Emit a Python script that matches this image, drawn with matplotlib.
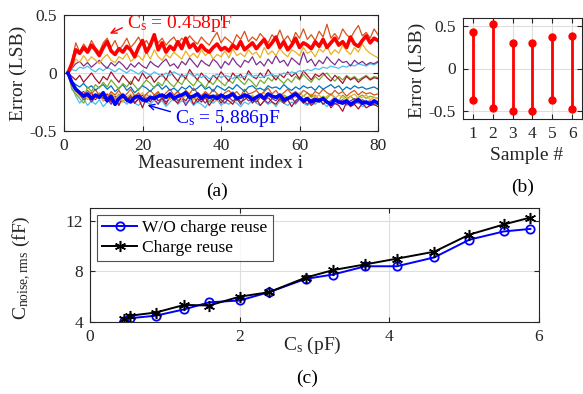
import numpy as np
import matplotlib
matplotlib.use("Agg")
import matplotlib.pyplot as plt

plt.rcParams['font.family'] = ['Liberation Serif', 'DejaVu Serif']
plt.rcParams['mathtext.fontset'] = 'custom'
plt.rcParams['mathtext.rm'] = 'Liberation Serif'
plt.rcParams['mathtext.it'] = 'Liberation Serif:italic'
plt.rcParams['axes.unicode_minus'] = False

# ---------------- Panel (a) data (error in hundredths of LSB) ----------------
red_thick = [0, 8, 20, 17, 22, 18, 24, 20, 15, 22, 27, 19, 16, 21, 18, 23, 20, 14, 22, 28,
             18, 24, 33, 20, 26, 18, 23, 20, 27, 21, 30, 22, 25, 19, 24, 20, 18, 22, 25, 20,
             22, 19, 24, 21, 27, 20, 23, 26, 21, 25, 29, 22, 26, 31, 22, 27, 20, 24, 30, 22,
             26, 24, 21, 27, 23, 29, 22, 26, 30, 24, 27, 22, 31, 25, 23, 28, 32, 26, 30, 28]
blue_thick = [0, -8, -14, -17, -20, -18, -22, -19, -21, -17, -24, -20, -27, -22, -19, -23, -25, -21, -20, -23,
              -24, -21, -22, -20, -19, -21, -18, -22, -20, -19, -17, -21, -20, -18, -22, -19, -21, -20, -22, -19,
              -21, -20, -18, -22, -21, -19, -20, -23, -21, -19, -22, -18, -20, -21, -19, -23, -22, -20, -18, -21,
              -24, -22, -25, -23, -24, -22, -25, -27, -23, -25, -26, -24, -27, -25, -23, -26, -25, -27, -24, -26]
thin_orange_top = [0, 10, 26, 18, 25, 20, 28, 22, 18, 26, 30, 22, 28, 20, 24, 30, 22, 26, 31, 24,
                   28, 22, 32, 26, 30, 24, 28, 31, 25, 30, 27, 32, 28, 25, 31, 27, 24, 30, 35, 26,
                   31, 28, 25, 33, 29, 36, 27, 31, 28, 34, 30, 26, 33, 29, 37, 28, 32, 26, 35, 30,
                   38, 29, 33, 28, 36, 31, 42, 30, 34, 29, 38, 33, 30, 36, 41, 32, 35, 30, 38, 33]
thin_yellow_top = [0, 5, 12, 9, 15, 10, 14, 11, 8, 13, 16, 11, 9, 14, 12, 17, 10, 13, 15, 11,
                   18, 12, 20, 14, 11, 16, 13, 18, 15, 12, 19, 14, 17, 13, 20, 15, 18, 12, 16, 14,
                   19, 13, 21, 15, 17, 14, 20, 16, 18, 13, 22, 16, 19, 15, 21, 17, 14, 20, 18, 15,
                   22, 17, 19, 14, 21, 18, 23, 16, 20, 17, 24, 19, 16, 22, 18, 25, 20, 17, 15, 13]
thin_purple_top = [0, 4, 8, 10, 6, 9, 5, 8, 11, 7, 4, 9, 6, 10, 7, 3, 8, 5, 9, 6,
                   4, 10, 7, 5, 9, 12, 6, 8, 4, 10, 7, 13, 9, 5, 11, 8, 6, 12, 9, 4,
                   10, 7, 13, 8, 5, 11, 9, 14, 7, 10, 6, 12, 8, 15, 9, 11, 6, 13, 10, 7,
                   18, 9, 12, 6, 11, 8, 14, 10, 7, 12, 9, 10, 6, 11, 8, 10, 7, 9, 8, 10]
thin_cyan_top = [0, 3, 2, 5, 4, 6, 3, 1, 4, 2, 5, 3, 1, 4, 2, 0, 3, 1, -1, 2,
                 0, -2, 1, -1, -3, 0, -2, 1, -1, -3, -2, 0, -3, -1, -4, -2, -5, -3, -1, -4,
                 -2, -3, -5, -2, -4, -3, -1, -3, -2, -4, -3, -2, -1, -3, -2, 0, -1, 1, 0, 2,
                 1, 3, 2, 4, 3, 5, 4, 6, 5, 4, 6, 5, 7, 6, 8, 7, 6, 8, 7, 9]
thin_darkred_mid = [0, -3, -6, -2, -8, -4, 0, -5, -9, -3, -6, 1, -4, -8, -2, -6, -10, -3, -7, 0,
                    -5, -2, -8, -4, -1, -6, 2, -3, -7, -1, -5, 3, -2, -6, 0, -4, -8, -2, -5, 1,
                    -3, -7, 0, -4, -1, -6, 2, -3, -5, 0, -4, 3, -2, -6, -1, -4, 1, -3, 0, -5,
                    2, -2, -6, -1, -3, 0, -4, -7, -2, -5, -9, -3, -6, -4, -8, -5, -3, -6, -4, -5]
thin_green_mid = [0, -10, -14, -18, -22, -12, -16, -10, -13, -8, -12, -6, -10, -14, -9, -12, -7, -11, -15, -10,
                  -6, -9, -13, -8, -11, -5, -9, -12, -7, -10, -4, -8, -11, -6, -9, -13, -7, -10, -5, -8,
                  -11, -6, -9, -3, -7, -10, -5, -8, -12, -6, -9, -4, -7, -2, -6, -9, -5, -8, -3, -6,
                  -1, -5, -8, -3, -6, -2, 0, -4, -7, -3, -6, -2, -5, -3, -6, -4, -2, -5, -3, -4]
thin_blue_mid = [0, -7, -10, -12, -9, -13, -11, -15, -12, -10, -14, -11, -16, -13, -10, -15, -12, -17, -14, -11,
                 -13, -16, -12, -10, -14, -11, -15, -13, -16, -12, -14, -11, -15, -13, -10, -14, -12, -16, -11, -13,
                 -15, -12, -14, -10, -13, -16, -12, -11, -14, -13, -15, -11, -13, -12, -14, -10, -13, -15, -12, -14,
                 -11, -13, -12, -15, -11, -14, -12, -10, -13, -11, -15, -12, -14, -11, -13, -12, -14, -13, -12, -14]
thin_orange_low = [0, -9, -13, -16, -19, -15, -18, -14, -20, -17, -22, -16, -19, -15, -21, -18, -14, -20, -17, -22,
                   -18, -15, -19, -16, -21, -17, -14, -19, -16, -20, -15, -18, -13, -17, -20, -16, -19, -14, -18, -21,
                   -17, -15, -19, -16, -20, -14, -18, -17, -15, -19, -16, -13, -18, -15, -20, -17, -14, -18, -16, -19,
                   -15, -17, -20, -16, -18, -14, -17, -19, -15, -18, -16, -20, -17, -15, -19, -16, -18, -17, -19, -18]
thin_yellow_low = [0, -11, -16, -20, -17, -23, -19, -22, -18, -24, -20, -17, -22, -19, -25, -21, -18, -23, -20, -17,
                   -22, -19, -24, -20, -18, -21, -23, -19, -16, -22, -20, -18, -23, -21, -19, -17, -22, -20, -24, -18,
                   -21, -19, -16, -20, -22, -18, -21, -19, -23, -20, -17, -21, -19, -22, -18, -20, -23, -19, -21, -17,
                   -20, -22, -18, -21, -19, -23, -20, -18, -22, -19, -21, -24, -20, -18, -22, -21, -19, -23, -21, -22]
thin_purple_low = [0, -10, -15, -19, -23, -20, -25, -21, -18, -24, -22, -27, -20, -23, -19, -25, -21, -26, -22, -19,
                   -24, -20, -23, -27, -21, -25, -22, -19, -24, -21, -28, -23, -20, -25, -22, -26, -21, -24, -19, -23,
                   -26, -21, -24, -22, -27, -20, -24, -22, -25, -21, -23, -26, -22, -24, -20, -25, -23, -21, -26, -22,
                   -24, -27, -23, -21, -25, -22, -26, -24, -21, -25, -23, -27, -24, -22, -26, -23, -25, -24, -26, -25]
thin_green_low = [0, -14, -18, -22, -26, -19, -23, -20, -17, -21, -24, -19, -22, -18, -25, -20, -23, -19, -21, -24,
                  -18, -22, -20, -17, -23, -21, -19, -24, -20, -22, -18, -21, -23, -19, -22, -20, -25, -21, -18, -23,
                  -20, -22, -19, -24, -21, -17, -22, -20, -23, -19, -21, -18, -22, -20, -24, -19, -21, -23, -18, -22,
                  -20, -17, -21, -19, -23, -20, -22, -18, -21, -24, -19, -22, -20, -23, -21, -19, -22, -20, -21, -22]
thin_cyan_low = [0, -12, -20, -26, -22, -28, -24, -27, -23, -29, -25, -22, -28, -26, -24, -27, -23, -26, -28, -24,
                 -25, -27, -23, -26, -24, -29, -25, -22, -27, -24, -26, -23, -28, -25, -27, -30, -24, -26, -23, -28,
                 -25, -27, -24, -26, -29, -25, -27, -23, -26, -28, -24, -27, -25, -29, -24, -26, -28, -25, -27, -23,
                 -26, -28, -25, -27, -24, -26, -29, -25, -27, -26, -24, -28, -26, -27, -25, -29, -27, -25, -28, -27]
thin_darkred_low = [0, -8, -14, -18, -16, -20, -17, -23, -19, -22, -18, -25, -21, -28, -20, -24, -19, -26, -22, -30,
                    -21, -25, -19, -24, -22, -27, -20, -23, -26, -21, -24, -19, -27, -22, -25, -21, -28, -23, -20, -26,
                    -22, -24, -27, -21, -25, -23, -20, -26, -22, -28, -24, -21, -25, -27, -22, -26, -23, -29, -24, -21,
                    -26, -23, -28, -25, -22, -27, -24, -30, -26, -28, -33, -25, -29, -27, -31, -26, -30, -28, -27, -29]

# ---------------- Panel (b) data ----------------
samples = [1, 2, 3, 4, 5, 6]
err_max = [0.437, 0.524, 0.306, 0.306, 0.377, 0.385]
err_min = [-0.377, -0.472, -0.500, -0.500, -0.369, -0.476]

# ---------------- Panel (c) data ----------------
cs_pf = [0.458, 0.54, 0.88, 1.26, 1.59, 2.0, 2.39, 2.88, 3.25, 3.68, 4.10, 4.60, 5.07, 5.53, 5.886]
noise_wo = [4.1, 4.3, 4.5, 5.0, 5.55, 5.7, 6.35, 7.4, 7.75, 8.4, 8.4, 9.1, 10.5, 11.15, 11.35]
noise_reuse = [4.2, 4.5, 4.75, 5.35, 5.3, 6.0, 6.35, 7.5, 8.1, 8.55, 9.0, 9.55, 10.9, 11.7, 12.25]

# ---------------- Figure ----------------
W, H = 583, 394
fig = plt.figure(figsize=(W / 100, H / 100), dpi=100)

def ax_px(l, t, r, b):
    return fig.add_axes([l / W, 1 - b / H, (r - l) / W, (b - t) / H])

AX_C = (0.15, 0.15, 0.15)
TICK_FS = 12.5
LAB_FS = 14

def style(ax):
    for s in ax.spines.values():
        s.set_color(AX_C)
        s.set_linewidth(0.8)
    ax.tick_params(direction='in', top=True, right=True, colors=AX_C,
                   labelsize=TICK_FS, length=3.5, width=0.8, pad=5)
    ax.grid(True, color=(0.87, 0.87, 0.87), linewidth=0.8)
    ax.set_axisbelow(True)

# MATLAB default colors
mb = (0.000, 0.447, 0.741)
mo = (0.850, 0.325, 0.098)
my = (0.929, 0.694, 0.125)
mp = (0.494, 0.184, 0.556)
mg = (0.466, 0.674, 0.188)
mc = (0.301, 0.745, 0.933)
mr = (0.635, 0.078, 0.184)

# Panel (a)
axa = ax_px(64, 15, 378, 131)
style(axa)
thin = [(thin_cyan_low, mc), (thin_green_low, mg), (thin_purple_low, mp), (thin_darkred_low, mr),
        (thin_yellow_low, my), (thin_orange_low, mo), (thin_blue_mid, mb), (thin_green_mid, mg),
        (thin_darkred_mid, mr), (thin_cyan_top, mc), (thin_purple_top, mp), (thin_yellow_top, my),
        (thin_orange_top, mo)]
for vals, col in thin:
    v = np.array(vals) / 100.0
    axa.plot(np.arange(1, len(v) + 1), v, color=col, lw=0.9)
v = np.array(red_thick) / 100.0
axa.plot(np.arange(1, len(v) + 1), v, color=(1, 0, 0), lw=2.6)
v = np.array(blue_thick) / 100.0
axa.plot(np.arange(1, len(v) + 1), v, color=(0, 0, 1), lw=2.6)
axa.set_xlim(0, 80)
axa.set_ylim(-0.5, 0.5)
axa.set_xticks([0, 20, 40, 60, 80])
axa.set_yticks([-0.5, 0, 0.5])
axa.set_yticklabels(['-0.5', '0', '0.5'])
axa.annotate('', xy=(11.0, 0.33), xytext=(15.5, 0.40),
             arrowprops=dict(arrowstyle='->', color='red', lw=1.0))
axa.text(16.0, 0.43, r'C$_{\mathrm{s}}$ = 0.458pF', color='red', fontsize=14,
         ha='left', va='center')
axa.annotate('', xy=(20.6, -0.27), xytext=(27.8, -0.34),
             arrowprops=dict(arrowstyle='->', color='blue', lw=1.0))
axa.text(28.3, -0.39, r'C$_{\mathrm{s}}$ = 5.886pF', color='blue', fontsize=14,
         ha='left', va='center')

fig.text(18 / W, 1 - 73 / H, 'Error (LSB)', rotation=90, ha='center', va='center',
         fontsize=LAB_FS, color=AX_C)
fig.text(221 / W, 1 - 163 / H, 'Measurement index i', ha='center', va='center',
         fontsize=LAB_FS, color=AX_C)
fig.text(217 / W, 1 - 191 / H, '(a)', ha='center', va='center', fontsize=LAB_FS, color='black')

# Panel (b)
axb = ax_px(463, 18, 582, 119)
style(axb)
axb.vlines(samples, err_min, err_max, color='red', lw=2)
axb.plot(samples, err_max, 'o', color='red', ms=5)
axb.plot(samples, err_min, 'o', color='red', ms=5)
axb.set_xlim(0.5, 6.5)
axb.set_ylim(-0.6, 0.6)
axb.set_xticks(samples)
axb.set_yticks([-0.5, 0, 0.5])
axb.set_yticklabels(['-0.5', '0', '0.5'])
fig.text(417 / W, 1 - 70 / H, 'Error (LSB)', rotation=90, ha='center', va='center',
         fontsize=LAB_FS, color=AX_C)
fig.text(527 / W, 1 - 155 / H, 'Sample #', ha='center', va='center',
         fontsize=LAB_FS, color=AX_C)
fig.text(523 / W, 1 - 187 / H, '(b)', ha='center', va='center', fontsize=LAB_FS, color='black')

# Panel (c)
axc = ax_px(90, 208, 539, 322)
style(axc)
axc.plot(cs_pf, noise_wo, '-o', color=(0, 0, 1), lw=1.4, ms=6, mfc='none', mew=1.3,
         label='W/O charge reuse')
axc.plot(cs_pf, noise_reuse, '-', marker=(6, 2, 0), color='black', lw=1.4, ms=8, mew=1.1,
         label='Charge reuse')
axc.set_xlim(0, 6)
axc.set_ylim(4, 13)
axc.set_xticks([0, 2, 4, 6])
axc.set_yticks([4, 8, 12])
leg = axc.legend(loc='upper left', fontsize=12.5, frameon=True, fancybox=False,
                 edgecolor=AX_C, borderpad=0.3, labelspacing=0.2, handlelength=2.0,
                 handletextpad=0.3, borderaxespad=0.4)
leg.get_frame().set_linewidth(0.8)
fig.text(312 / W, 1 - 345 / H, r'C$_{\mathrm{s}}$ (pF)', ha='center', va='center',
         fontsize=LAB_FS, color=AX_C)
fig.text(22 / W, 1 - 268 / H, r'C$_{\mathrm{noise,rms}}$ (fF)', rotation=90,
         ha='center', va='center', fontsize=LAB_FS, color=AX_C)
fig.text(307 / W, 1 - 378 / H, '(c)', ha='center', va='center', fontsize=LAB_FS, color='black')

fig.savefig('out.png', dpi=100)
